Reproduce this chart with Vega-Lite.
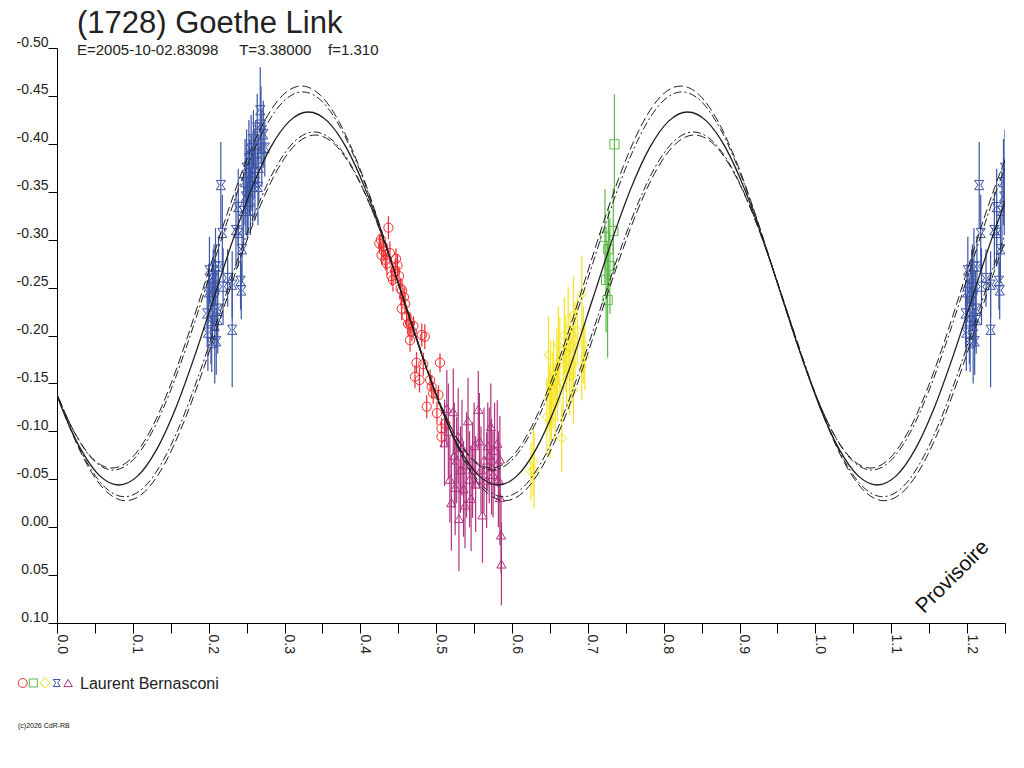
{
  "$schema": "https://vega.github.io/schema/vega-lite/v6.json",
  "width": 948,
  "height": 575,
  "autosize": {"type": "none"},
  "padding": {"left": 57, "top": 48, "right": 19, "bottom": 145},
  "background": "white",
  "title": {
    "text": "(1728) Goethe Link",
    "subtitle": "E=2005-10-02.83098\u00a0\u00a0\u00a0\u00a0\u00a0T=3.38000\u00a0\u00a0\u00a0\u00a0f=1.310",
    "anchor": "start",
    "frame": "group",
    "dx": 20,
    "offset": -24,
    "font": "Liberation Sans",
    "fontSize": 31,
    "fontWeight": "normal",
    "color": "#222222",
    "subtitleFont": "Liberation Sans",
    "subtitleFontSize": 15,
    "subtitleColor": "#222222",
    "subtitlePadding": 3
  },
  "config": {
    "view": {"stroke": null},
    "locale": {"number": {"decimal": ".", "thousands": ",", "grouping": [3], "currency": ["$", ""], "minus": "-"}},
    "axis": {
      "grid": false,
      "domainColor": "#000000",
      "tickColor": "#000000",
      "domainWidth": 1,
      "tickWidth": 1,
      "labelFont": "Liberation Sans",
      "labelFontSize": 14,
      "labelColor": "#222222"
    },
    "axisX": {
      "values": [0, 0.05, 0.1, 0.15, 0.2, 0.25, 0.3, 0.35, 0.4, 0.45, 0.5, 0.55, 0.6, 0.65, 0.7, 0.75, 0.8, 0.85, 0.9, 0.95, 1, 1.05, 1.1, 1.15, 1.2, 1.25],
      "format": ".1f",
      "labelExpr": "round(datum.value * 100) % 10 == 0 ? datum.label : ''",
      "labelAngle": 90,
      "labelAlign": "left",
      "labelBaseline": "alphabetic",
      "labelOverlap": false,
      "labelFlush": false,
      "tickSize": 10,
      "labelPadding": 1
    },
    "axisY": {
      "values": [-0.5, -0.45, -0.4, -0.35, -0.3, -0.25, -0.2, -0.15, -0.1, -0.05, 0, 0.05, 0.1],
      "format": ".2f",
      "labelAlign": "right",
      "labelBaseline": "alphabetic",
      "labelOverlap": false,
      "labelFlush": false,
      "labelOffset": -2,
      "tickSize": 9,
      "labelPadding": 0
    }
  },
  "datasets": {
    "curves": [
      {"c":"s","p":-0.0185,"m":-0.1785},{"c":"s","p":0.0065,"m":-0.1242},{"c":"s","p":0.0315,"m":-0.0812},{"c":"s","p":0.0565,"m":-0.0535},
      {"c":"s","p":0.0815,"m":-0.0440},{"c":"s","p":0.1065,"m":-0.0535},{"c":"s","p":0.1315,"m":-0.0812},{"c":"s","p":0.1565,"m":-0.1242},
      {"c":"s","p":0.1815,"m":-0.1785},{"c":"s","p":0.2065,"m":-0.2386},{"c":"s","p":0.2315,"m":-0.2987},{"c":"s","p":0.2565,"m":-0.3530},
      {"c":"s","p":0.2815,"m":-0.3960},{"c":"s","p":0.3065,"m":-0.4237},{"c":"s","p":0.3315,"m":-0.4332},{"c":"s","p":0.3565,"m":-0.4237},
      {"c":"s","p":0.3815,"m":-0.3960},{"c":"s","p":0.4065,"m":-0.3530},{"c":"s","p":0.4315,"m":-0.2987},{"c":"s","p":0.4565,"m":-0.2386},
      {"c":"s","p":0.4815,"m":-0.1785},{"c":"s","p":0.5065,"m":-0.1242},{"c":"s","p":0.5315,"m":-0.0812},{"c":"s","p":0.5565,"m":-0.0535},
      {"c":"s","p":0.5815,"m":-0.0440},{"c":"s","p":0.6065,"m":-0.0535},{"c":"s","p":0.6315,"m":-0.0812},{"c":"s","p":0.6565,"m":-0.1242},
      {"c":"s","p":0.6815,"m":-0.1785},{"c":"s","p":0.7065,"m":-0.2386},{"c":"s","p":0.7315,"m":-0.2987},{"c":"s","p":0.7565,"m":-0.3530},
      {"c":"s","p":0.7815,"m":-0.3960},{"c":"s","p":0.8065,"m":-0.4237},{"c":"s","p":0.8315,"m":-0.4332},{"c":"s","p":0.8565,"m":-0.4237},
      {"c":"s","p":0.8815,"m":-0.3960},{"c":"s","p":0.9065,"m":-0.3530},{"c":"s","p":0.9315,"m":-0.2987},{"c":"s","p":0.9565,"m":-0.2386},
      {"c":"s","p":0.9815,"m":-0.1785},{"c":"s","p":1.0065,"m":-0.1242},{"c":"s","p":1.0315,"m":-0.0812},{"c":"s","p":1.0565,"m":-0.0535},
      {"c":"s","p":1.0815,"m":-0.0440},{"c":"s","p":1.1065,"m":-0.0535},{"c":"s","p":1.1315,"m":-0.0812},{"c":"s","p":1.1565,"m":-0.1242},
      {"c":"s","p":1.1815,"m":-0.1785},{"c":"s","p":1.2065,"m":-0.2386},{"c":"s","p":1.2315,"m":-0.2987},{"c":"s","p":1.2565,"m":-0.3530},

      {"c":"uo","p":-0.0275,"m":-0.1994},{"c":"uo","p":-0.0025,"m":-0.1439},{"c":"uo","p":0.0225,"m":-0.0998},{"c":"uo","p":0.0475,"m":-0.0714},
      {"c":"uo","p":0.0725,"m":-0.0617},{"c":"uo","p":0.0975,"m":-0.0714},{"c":"uo","p":0.1225,"m":-0.0998},{"c":"uo","p":0.1475,"m":-0.1439},
      {"c":"uo","p":0.1725,"m":-0.1994},{"c":"uo","p":0.1975,"m":-0.2610},{"c":"uo","p":0.2225,"m":-0.3226},{"c":"uo","p":0.2475,"m":-0.3781},
      {"c":"uo","p":0.2725,"m":-0.4222},{"c":"uo","p":0.2975,"m":-0.4506},{"c":"uo","p":0.3225,"m":-0.4603},{"c":"uo","p":0.3475,"m":-0.4506},
      {"c":"uo","p":0.3725,"m":-0.4222},{"c":"uo","p":0.3975,"m":-0.3781},{"c":"uo","p":0.4225,"m":-0.3226},{"c":"uo","p":0.4475,"m":-0.2610},
      {"c":"uo","p":0.4725,"m":-0.1994},{"c":"uo","p":0.4975,"m":-0.1439},{"c":"uo","p":0.5225,"m":-0.0998},{"c":"uo","p":0.5475,"m":-0.0714},
      {"c":"uo","p":0.5725,"m":-0.0617},{"c":"uo","p":0.5975,"m":-0.0714},{"c":"uo","p":0.6225,"m":-0.0998},{"c":"uo","p":0.6475,"m":-0.1439},
      {"c":"uo","p":0.6725,"m":-0.1994},{"c":"uo","p":0.6975,"m":-0.2610},{"c":"uo","p":0.7225,"m":-0.3226},{"c":"uo","p":0.7475,"m":-0.3781},
      {"c":"uo","p":0.7725,"m":-0.4222},{"c":"uo","p":0.7975,"m":-0.4506},{"c":"uo","p":0.8225,"m":-0.4603},{"c":"uo","p":0.8475,"m":-0.4506},
      {"c":"uo","p":0.8725,"m":-0.4222},{"c":"uo","p":0.8975,"m":-0.3781},{"c":"uo","p":0.9225,"m":-0.3226},{"c":"uo","p":0.9475,"m":-0.2610},
      {"c":"uo","p":0.9725,"m":-0.1994},{"c":"uo","p":0.9975,"m":-0.1439},{"c":"uo","p":1.0225,"m":-0.0998},{"c":"uo","p":1.0475,"m":-0.0714},
      {"c":"uo","p":1.0725,"m":-0.0617},{"c":"uo","p":1.0975,"m":-0.0714},{"c":"uo","p":1.1225,"m":-0.0998},{"c":"uo","p":1.1475,"m":-0.1439},
      {"c":"uo","p":1.1725,"m":-0.1994},{"c":"uo","p":1.1975,"m":-0.2610},{"c":"uo","p":1.2225,"m":-0.3226},{"c":"uo","p":1.2475,"m":-0.3781},
      {"c":"uo","p":1.2725,"m":-0.4222},

      {"c":"ui","p":-0.026,"m":-0.1959},{"c":"ui","p":-0.001,"m":-0.1409},{"c":"ui","p":0.024,"m":-0.0973},{"c":"ui","p":0.049,"m":-0.0692},
      {"c":"ui","p":0.074,"m":-0.0596},{"c":"ui","p":0.099,"m":-0.0692},{"c":"ui","p":0.124,"m":-0.0973},{"c":"ui","p":0.149,"m":-0.1409},
      {"c":"ui","p":0.174,"m":-0.1959},{"c":"ui","p":0.199,"m":-0.2569},{"c":"ui","p":0.224,"m":-0.3179},{"c":"ui","p":0.249,"m":-0.3729},
      {"c":"ui","p":0.274,"m":-0.4165},{"c":"ui","p":0.299,"m":-0.4446},{"c":"ui","p":0.324,"m":-0.4542},{"c":"ui","p":0.349,"m":-0.4446},
      {"c":"ui","p":0.374,"m":-0.4165},{"c":"ui","p":0.399,"m":-0.3729},{"c":"ui","p":0.424,"m":-0.3179},{"c":"ui","p":0.449,"m":-0.2569},
      {"c":"ui","p":0.474,"m":-0.1959},{"c":"ui","p":0.499,"m":-0.1409},{"c":"ui","p":0.524,"m":-0.0973},{"c":"ui","p":0.549,"m":-0.0692},
      {"c":"ui","p":0.574,"m":-0.0596},{"c":"ui","p":0.599,"m":-0.0692},{"c":"ui","p":0.624,"m":-0.0973},{"c":"ui","p":0.649,"m":-0.1409},
      {"c":"ui","p":0.674,"m":-0.1959},{"c":"ui","p":0.699,"m":-0.2569},{"c":"ui","p":0.724,"m":-0.3179},{"c":"ui","p":0.749,"m":-0.3729},
      {"c":"ui","p":0.774,"m":-0.4165},{"c":"ui","p":0.799,"m":-0.4446},{"c":"ui","p":0.824,"m":-0.4542},{"c":"ui","p":0.849,"m":-0.4446},
      {"c":"ui","p":0.874,"m":-0.4165},{"c":"ui","p":0.899,"m":-0.3729},{"c":"ui","p":0.924,"m":-0.3179},{"c":"ui","p":0.949,"m":-0.2569},
      {"c":"ui","p":0.974,"m":-0.1959},{"c":"ui","p":0.999,"m":-0.1409},{"c":"ui","p":1.024,"m":-0.0973},{"c":"ui","p":1.049,"m":-0.0692},
      {"c":"ui","p":1.074,"m":-0.0596},{"c":"ui","p":1.099,"m":-0.0692},{"c":"ui","p":1.124,"m":-0.0973},{"c":"ui","p":1.149,"m":-0.1409},
      {"c":"ui","p":1.174,"m":-0.1959},{"c":"ui","p":1.199,"m":-0.2569},{"c":"ui","p":1.224,"m":-0.3179},{"c":"ui","p":1.249,"m":-0.3729},
      {"c":"ui","p":1.274,"m":-0.4165},

      {"c":"li","p":-0.011,"m":-0.1633},{"c":"li","p":0.014,"m":-0.1102},{"c":"li","p":0.039,"m":-0.0682},{"c":"li","p":0.064,"m":-0.0411},
      {"c":"li","p":0.089,"m":-0.0318},{"c":"li","p":0.114,"m":-0.0411},{"c":"li","p":0.139,"m":-0.0682},{"c":"li","p":0.164,"m":-0.1102},
      {"c":"li","p":0.189,"m":-0.1633},{"c":"li","p":0.214,"m":-0.2221},{"c":"li","p":0.239,"m":-0.2809},{"c":"li","p":0.264,"m":-0.3340},
      {"c":"li","p":0.289,"m":-0.3761},{"c":"li","p":0.314,"m":-0.4031},{"c":"li","p":0.339,"m":-0.4124},{"c":"li","p":0.364,"m":-0.4031},
      {"c":"li","p":0.389,"m":-0.3761},{"c":"li","p":0.414,"m":-0.3340},{"c":"li","p":0.439,"m":-0.2809},{"c":"li","p":0.464,"m":-0.2221},
      {"c":"li","p":0.489,"m":-0.1633},{"c":"li","p":0.514,"m":-0.1102},{"c":"li","p":0.539,"m":-0.0682},{"c":"li","p":0.564,"m":-0.0411},
      {"c":"li","p":0.589,"m":-0.0318},{"c":"li","p":0.614,"m":-0.0411},{"c":"li","p":0.639,"m":-0.0682},{"c":"li","p":0.664,"m":-0.1102},
      {"c":"li","p":0.689,"m":-0.1633},{"c":"li","p":0.714,"m":-0.2221},{"c":"li","p":0.739,"m":-0.2809},{"c":"li","p":0.764,"m":-0.3340},
      {"c":"li","p":0.789,"m":-0.3761},{"c":"li","p":0.814,"m":-0.4031},{"c":"li","p":0.839,"m":-0.4124},{"c":"li","p":0.864,"m":-0.4031},
      {"c":"li","p":0.889,"m":-0.3761},{"c":"li","p":0.914,"m":-0.3340},{"c":"li","p":0.939,"m":-0.2809},{"c":"li","p":0.964,"m":-0.2221},
      {"c":"li","p":0.989,"m":-0.1633},{"c":"li","p":1.014,"m":-0.1102},{"c":"li","p":1.039,"m":-0.0682},{"c":"li","p":1.064,"m":-0.0411},
      {"c":"li","p":1.089,"m":-0.0318},{"c":"li","p":1.114,"m":-0.0411},{"c":"li","p":1.139,"m":-0.0682},{"c":"li","p":1.164,"m":-0.1102},
      {"c":"li","p":1.189,"m":-0.1633},{"c":"li","p":1.214,"m":-0.2221},{"c":"li","p":1.239,"m":-0.2809},{"c":"li","p":1.264,"m":-0.3340},

      {"c":"lo","p":-0.0095,"m":-0.1594},{"c":"lo","p":0.0155,"m":-0.1063},{"c":"lo","p":0.0405,"m":-0.0640},{"c":"lo","p":0.0655,"m":-0.0369},
      {"c":"lo","p":0.0905,"m":-0.0276},{"c":"lo","p":0.1155,"m":-0.0369},{"c":"lo","p":0.1405,"m":-0.0640},{"c":"lo","p":0.1655,"m":-0.1063},
      {"c":"lo","p":0.1905,"m":-0.1594},{"c":"lo","p":0.2155,"m":-0.2184},{"c":"lo","p":0.2405,"m":-0.2774},{"c":"lo","p":0.2655,"m":-0.3306},
      {"c":"lo","p":0.2905,"m":-0.3728},{"c":"lo","p":0.3155,"m":-0.3999},{"c":"lo","p":0.3405,"m":-0.4092},{"c":"lo","p":0.3655,"m":-0.3999},
      {"c":"lo","p":0.3905,"m":-0.3728},{"c":"lo","p":0.4155,"m":-0.3306},{"c":"lo","p":0.4405,"m":-0.2774},{"c":"lo","p":0.4655,"m":-0.2184},
      {"c":"lo","p":0.4905,"m":-0.1594},{"c":"lo","p":0.5155,"m":-0.1063},{"c":"lo","p":0.5405,"m":-0.0640},{"c":"lo","p":0.5655,"m":-0.0369},
      {"c":"lo","p":0.5905,"m":-0.0276},{"c":"lo","p":0.6155,"m":-0.0369},{"c":"lo","p":0.6405,"m":-0.0640},{"c":"lo","p":0.6655,"m":-0.1063},
      {"c":"lo","p":0.6905,"m":-0.1594},{"c":"lo","p":0.7155,"m":-0.2184},{"c":"lo","p":0.7405,"m":-0.2774},{"c":"lo","p":0.7655,"m":-0.3306},
      {"c":"lo","p":0.7905,"m":-0.3728},{"c":"lo","p":0.8155,"m":-0.3999},{"c":"lo","p":0.8405,"m":-0.4092},{"c":"lo","p":0.8655,"m":-0.3999},
      {"c":"lo","p":0.8905,"m":-0.3728},{"c":"lo","p":0.9155,"m":-0.3306},{"c":"lo","p":0.9405,"m":-0.2774},{"c":"lo","p":0.9655,"m":-0.2184},
      {"c":"lo","p":0.9905,"m":-0.1594},{"c":"lo","p":1.0155,"m":-0.1063},{"c":"lo","p":1.0405,"m":-0.0640},{"c":"lo","p":1.0655,"m":-0.0369},
      {"c":"lo","p":1.0905,"m":-0.0276},{"c":"lo","p":1.1155,"m":-0.0369},{"c":"lo","p":1.1405,"m":-0.0640},{"c":"lo","p":1.1655,"m":-0.1063},
      {"c":"lo","p":1.1905,"m":-0.1594},{"c":"lo","p":1.2155,"m":-0.2184},{"c":"lo","p":1.2405,"m":-0.2774},{"c":"lo","p":1.2655,"m":-0.3306}
    ],
    "obs": [
      {"s":"r","p":0.425,"m":-0.296,"e":0.010},{"s":"r","p":0.427,"m":-0.300,"e":0.009},{"s":"r","p":0.428,"m":-0.284,"e":0.010},
      {"s":"r","p":0.430,"m":-0.293,"e":0.012},{"s":"r","p":0.431,"m":-0.288,"e":0.009},{"s":"r","p":0.433,"m":-0.279,"e":0.011},
      {"s":"r","p":0.435,"m":-0.275,"e":0.012},{"s":"r","p":0.437,"m":-0.3125,"e":0.012},{"s":"r","p":0.439,"m":-0.286,"e":0.012},
      {"s":"r","p":0.441,"m":-0.262,"e":0.010},{"s":"r","p":0.443,"m":-0.258,"e":0.012},{"s":"r","p":0.446,"m":-0.267,"e":0.013},
      {"s":"r","p":0.447,"m":-0.280,"e":0.011},{"s":"r","p":0.449,"m":-0.273,"e":0.012},{"s":"r","p":0.451,"m":-0.262,"e":0.010},
      {"s":"r","p":0.453,"m":-0.249,"e":0.011},{"s":"r","p":0.455,"m":-0.247,"e":0.012},{"s":"r","p":0.4575,"m":-0.240,"e":0.010},
      {"s":"r","p":0.4545,"m":-0.228,"e":0.012},{"s":"r","p":0.459,"m":-0.233,"e":0.011},{"s":"r","p":0.461,"m":-0.220,"e":0.012},
      {"s":"r","p":0.463,"m":-0.212,"e":0.013},{"s":"r","p":0.4655,"m":-0.213,"e":0.011},{"s":"r","p":0.470,"m":-0.210,"e":0.010},
      {"s":"r","p":0.4655,"m":-0.195,"e":0.012},{"s":"r","p":0.468,"m":-0.204,"e":0.010},{"s":"r","p":0.481,"m":-0.2005,"e":0.012},
      {"s":"r","p":0.485,"m":-0.1988,"e":0.013},{"s":"r","p":0.474,"m":-0.1716,"e":0.011},{"s":"r","p":0.483,"m":-0.170,"e":0.012},
      {"s":"r","p":0.505,"m":-0.1716,"e":0.010},{"s":"r","p":0.472,"m":-0.157,"e":0.012},{"s":"r","p":0.478,"m":-0.1535,"e":0.013},
      {"s":"r","p":0.492,"m":-0.1535,"e":0.011},{"s":"r","p":0.494,"m":-0.1466,"e":0.012},{"s":"r","p":0.496,"m":-0.1397,"e":0.011},
      {"s":"r","p":0.503,"m":-0.138,"e":0.010},{"s":"r","p":0.4875,"m":-0.1257,"e":0.012},{"s":"r","p":0.501,"m":-0.119,"e":0.012},
      {"s":"r","p":0.507,"m":-0.103,"e":0.011},{"s":"r","p":0.507,"m":-0.0944,"e":0.011},{"s":"r","p":0.512,"m":-0.108,"e":0.010},

      {"s":"m","p":0.511,"m":-0.088,"e":0.045},{"s":"m","p":0.514,"m":-0.124,"e":0.040},{"s":"m","p":0.516,"m":-0.100,"e":0.050},
      {"s":"m","p":0.518,"m":-0.050,"e":0.045},{"s":"m","p":0.520,"m":-0.0255,"e":0.050},{"s":"m","p":0.5225,"m":-0.1205,"e":0.045},
      {"s":"m","p":0.524,"m":-0.075,"e":0.055},{"s":"m","p":0.525,"m":-0.0416,"e":0.050},{"s":"m","p":0.527,"m":-0.070,"e":0.045},
      {"s":"m","p":0.529,"m":-0.095,"e":0.050},{"s":"m","p":0.530,"m":-0.009,"e":0.055},{"s":"m","p":0.532,"m":-0.060,"e":0.045},
      {"s":"m","p":0.534,"m":-0.083,"e":0.050},{"s":"m","p":0.536,"m":-0.040,"e":0.050},{"s":"m","p":0.538,"m":-0.023,"e":0.045},
      {"s":"m","p":0.540,"m":-0.065,"e":0.055},{"s":"m","p":0.542,"m":-0.111,"e":0.045},{"s":"m","p":0.544,"m":-0.050,"e":0.050},
      {"s":"m","p":0.546,"m":-0.030,"e":0.055},{"s":"m","p":0.548,"m":-0.0597,"e":0.050},{"s":"m","p":0.550,"m":-0.085,"e":0.045},
      {"s":"m","p":0.552,"m":-0.045,"e":0.050},{"s":"m","p":0.5555,"m":-0.123,"e":0.040},{"s":"m","p":0.557,"m":-0.090,"e":0.050},
      {"s":"m","p":0.559,"m":-0.060,"e":0.045},{"s":"m","p":0.561,"m":-0.0127,"e":0.050},{"s":"m","p":0.563,"m":-0.070,"e":0.055},
      {"s":"m","p":0.5665,"m":-0.049,"e":0.050},{"s":"m","p":0.568,"m":-0.085,"e":0.045},{"s":"m","p":0.570,"m":-0.075,"e":0.050},
      {"s":"m","p":0.572,"m":-0.105,"e":0.045},{"s":"m","p":0.573,"m":-0.063,"e":0.050},{"s":"m","p":0.575,"m":-0.055,"e":0.045},
      {"s":"m","p":0.577,"m":-0.080,"e":0.050},{"s":"m","p":0.5805,"m":-0.0875,"e":0.045},{"s":"m","p":0.582,"m":-0.050,"e":0.050},
      {"s":"m","p":0.584,"m":-0.071,"e":0.045},{"s":"m","p":0.584,"m":-0.031,"e":0.050},{"s":"m","p":0.5855,"m":0.0082,"e":0.040},
      {"s":"m","p":0.586,"m":0.0385,"e":0.043},

      {"s":"y","p":0.625,"m":-0.058,"e":0.030},{"s":"y","p":0.628,"m":-0.0683,"e":0.035},{"s":"y","p":0.629,"m":-0.0596,"e":0.040},
      {"s":"y","p":0.646,"m":-0.115,"e":0.040},{"s":"y","p":0.648,"m":-0.1796,"e":0.040},{"s":"y","p":0.649,"m":-0.135,"e":0.035},
      {"s":"y","p":0.650,"m":-0.1118,"e":0.040},{"s":"y","p":0.651,"m":-0.150,"e":0.045},{"s":"y","p":0.652,"m":-0.1257,"e":0.035},
      {"s":"y","p":0.654,"m":-0.143,"e":0.040},{"s":"y","p":0.655,"m":-0.160,"e":0.035},{"s":"y","p":0.657,"m":-0.130,"e":0.040},
      {"s":"y","p":0.659,"m":-0.1675,"e":0.040},{"s":"y","p":0.660,"m":-0.145,"e":0.035},{"s":"y","p":0.661,"m":-0.190,"e":0.040},
      {"s":"y","p":0.663,"m":-0.174,"e":0.045},{"s":"y","p":0.6655,"m":-0.0927,"e":0.035},{"s":"y","p":0.6675,"m":-0.150,"e":0.040},
      {"s":"y","p":0.669,"m":-0.200,"e":0.040},{"s":"y","p":0.671,"m":-0.1814,"e":0.040},{"s":"y","p":0.672,"m":-0.160,"e":0.035},
      {"s":"y","p":0.674,"m":-0.2057,"e":0.045},{"s":"y","p":0.676,"m":-0.157,"e":0.040},{"s":"y","p":0.6765,"m":-0.1883,"e":0.035},
      {"s":"y","p":0.679,"m":-0.170,"e":0.040},{"s":"y","p":0.681,"m":-0.2214,"e":0.040},{"s":"y","p":0.681,"m":-0.143,"e":0.035},
      {"s":"y","p":0.683,"m":-0.195,"e":0.040},{"s":"y","p":0.686,"m":-0.205,"e":0.035},{"s":"y","p":0.692,"m":-0.2433,"e":0.040},
      {"s":"y","p":0.692,"m":-0.1675,"e":0.035},{"s":"y","p":0.694,"m":-0.190,"e":0.040},{"s":"y","p":0.696,"m":-0.178,"e":0.035},

      {"s":"g","p":0.7225,"m":-0.303,"e":0.050},{"s":"g","p":0.724,"m":-0.258,"e":0.055},{"s":"g","p":0.726,"m":-0.237,"e":0.060},
      {"s":"g","p":0.727,"m":-0.290,"e":0.045},{"s":"g","p":0.729,"m":-0.2725,"e":0.050},{"s":"g","p":0.7335,"m":-0.309,"e":0.045},
      {"s":"g","p":0.735,"m":-0.3995,"e":0.052},

      {"s":"b","p":0.198,"m":-0.223,"e":0.035},{"s":"b","p":0.199,"m":-0.203,"e":0.040},{"s":"b","p":0.200,"m":-0.245,"e":0.030},
      {"s":"b","p":0.201,"m":-0.268,"e":0.035},{"s":"b","p":0.203,"m":-0.215,"e":0.045},{"s":"b","p":0.204,"m":-0.192,"e":0.030},
      {"s":"b","p":0.205,"m":-0.236,"e":0.040},{"s":"b","p":0.206,"m":-0.260,"e":0.030},{"s":"b","p":0.207,"m":-0.250,"e":0.045},
      {"s":"b","p":0.208,"m":-0.210,"e":0.060},{"s":"b","p":0.209,"m":-0.272,"e":0.040},{"s":"b","p":0.210,"m":-0.194,"e":0.035},
      {"s":"b","p":0.211,"m":-0.228,"e":0.040},{"s":"b","p":0.212,"m":-0.216,"e":0.035},{"s":"b","p":0.213,"m":-0.272,"e":0.030},
      {"s":"b","p":0.216,"m":-0.357,"e":0.045},{"s":"b","p":0.218,"m":-0.307,"e":0.040},{"s":"b","p":0.219,"m":-0.251,"e":0.040},
      {"s":"b","p":0.225,"m":-0.260,"e":0.030},{"s":"b","p":0.231,"m":-0.253,"e":0.035},{"s":"b","p":0.231,"m":-0.206,"e":0.060},
      {"s":"b","p":0.236,"m":-0.310,"e":0.040},{"s":"b","p":0.239,"m":-0.334,"e":0.040},{"s":"b","p":0.239,"m":-0.307,"e":0.035},
      {"s":"b","p":0.242,"m":-0.257,"e":0.030},{"s":"b","p":0.243,"m":-0.247,"e":0.030},{"s":"b","p":0.244,"m":-0.290,"e":0.035},
      {"s":"b","p":0.246,"m":-0.330,"e":0.040},{"s":"b","p":0.248,"m":-0.360,"e":0.045},{"s":"b","p":0.249,"m":-0.345,"e":0.040},
      {"s":"b","p":0.250,"m":-0.375,"e":0.040},{"s":"b","p":0.251,"m":-0.330,"e":0.030},{"s":"b","p":0.252,"m":-0.350,"e":0.045},
      {"s":"b","p":0.253,"m":-0.385,"e":0.040},{"s":"b","p":0.254,"m":-0.365,"e":0.040},{"s":"b","p":0.255,"m":-0.340,"e":0.035},
      {"s":"b","p":0.256,"m":-0.395,"e":0.035},{"s":"b","p":0.257,"m":-0.370,"e":0.040},{"s":"b","p":0.258,"m":-0.355,"e":0.040},
      {"s":"b","p":0.259,"m":-0.405,"e":0.030},{"s":"b","p":0.260,"m":-0.380,"e":0.035},{"s":"b","p":0.261,"m":-0.360,"e":0.040},
      {"s":"b","p":0.262,"m":-0.390,"e":0.035},{"s":"b","p":0.264,"m":-0.417,"e":0.035},{"s":"b","p":0.265,"m":-0.355,"e":0.040},
      {"s":"b","p":0.266,"m":-0.375,"e":0.035},{"s":"b","p":0.268,"m":-0.435,"e":0.045},{"s":"b","p":0.269,"m":-0.420,"e":0.040},
      {"s":"b","p":0.270,"m":-0.395,"e":0.040},{"s":"b","p":0.272,"m":-0.410,"e":0.035},{"s":"b","p":0.274,"m":-0.396,"e":0.030},

      {"s":"b","p":1.198,"m":-0.223,"e":0.035},{"s":"b","p":1.199,"m":-0.203,"e":0.040},{"s":"b","p":1.200,"m":-0.245,"e":0.030},
      {"s":"b","p":1.201,"m":-0.268,"e":0.035},{"s":"b","p":1.203,"m":-0.215,"e":0.045},{"s":"b","p":1.204,"m":-0.192,"e":0.030},
      {"s":"b","p":1.205,"m":-0.236,"e":0.040},{"s":"b","p":1.206,"m":-0.260,"e":0.030},{"s":"b","p":1.207,"m":-0.250,"e":0.045},
      {"s":"b","p":1.208,"m":-0.210,"e":0.060},{"s":"b","p":1.209,"m":-0.272,"e":0.040},{"s":"b","p":1.210,"m":-0.194,"e":0.035},
      {"s":"b","p":1.211,"m":-0.228,"e":0.040},{"s":"b","p":1.212,"m":-0.216,"e":0.035},{"s":"b","p":1.213,"m":-0.272,"e":0.030},
      {"s":"b","p":1.216,"m":-0.357,"e":0.045},{"s":"b","p":1.218,"m":-0.307,"e":0.040},{"s":"b","p":1.219,"m":-0.251,"e":0.040},
      {"s":"b","p":1.225,"m":-0.260,"e":0.030},{"s":"b","p":1.231,"m":-0.253,"e":0.035},{"s":"b","p":1.231,"m":-0.206,"e":0.060},
      {"s":"b","p":1.236,"m":-0.310,"e":0.040},{"s":"b","p":1.239,"m":-0.334,"e":0.040},{"s":"b","p":1.239,"m":-0.307,"e":0.035},
      {"s":"b","p":1.242,"m":-0.257,"e":0.030},{"s":"b","p":1.243,"m":-0.247,"e":0.030},{"s":"b","p":1.244,"m":-0.290,"e":0.035},
      {"s":"b","p":1.246,"m":-0.330,"e":0.040},{"s":"b","p":1.248,"m":-0.360,"e":0.045},{"s":"b","p":1.249,"m":-0.345,"e":0.040},
      {"s":"b","p":1.250,"m":-0.375,"e":0.040}
    ],
    "notes": [{"t": "Provisoire"}],
    "credit": [{"t": "(c)2026 CdR-RB"}],
    "observer": [{"t": "Laurent Bernasconi"}],
    "one": [{}]
  },
  "layer": [
    {
      "data": {"name": "obs"},
      "mark": {"type": "errorbar", "ticks": false, "clip": true, "thickness": 1.2},
      "encoding": {
        "x": {"field": "p", "type": "quantitative", "title": null, "scale": {"domain": [0, 1.25], "nice": false, "zero": false}},
        "y": {"field": "m", "type": "quantitative", "title": null, "scale": {"domain": [-0.5, 0.1], "reverse": true, "nice": false, "zero": false}},
        "yError": {"field": "e"},
        "color": {
          "field": "s",
          "type": "nominal",
          "scale": {"domain": ["r", "g", "y", "b", "m"], "range": ["#f02a2e", "#5cb947", "#f5e41c", "#3d56a6", "#b0337f"]},
          "legend": null
        }
      }
    },
    {
      "data": {"name": "obs"},
      "mark": {"type": "point", "filled": false, "size": 85, "strokeWidth": 1, "opacity": 1, "clip": true},
      "encoding": {
        "x": {"field": "p", "type": "quantitative", "title": null, "scale": {"domain": [0, 1.25], "nice": false, "zero": false}},
        "y": {"field": "m", "type": "quantitative", "title": null, "scale": {"domain": [-0.5, 0.1], "reverse": true, "nice": false, "zero": false}},
        "color": {
          "field": "s",
          "type": "nominal",
          "scale": {"domain": ["r", "g", "y", "b", "m"], "range": ["#f02a2e", "#5cb947", "#f5e41c", "#3d56a6", "#b0337f"]},
          "legend": null
        },
        "shape": {
          "field": "s",
          "type": "nominal",
          "scale": {"domain": ["r", "g", "y", "b", "m"], "range": ["circle", "square", "diamond", "M-1,-1L1,-1L0.3,0L1,1L-1,1L-0.3,0Z", "triangle-up"]},
          "legend": null
        }
      }
    },
    {
      "data": {"name": "curves"},
      "transform": [{"filter": "datum.c != 's'"}],
      "mark": {"type": "line", "interpolate": "monotone", "clip": true, "color": "#1e1e1e", "strokeWidth": 1},
      "encoding": {
        "x": {"field": "p", "type": "quantitative", "title": null, "scale": {"domain": [0, 1.25], "nice": false, "zero": false}},
        "y": {"field": "m", "type": "quantitative", "title": null, "scale": {"domain": [-0.5, 0.1], "reverse": true, "nice": false, "zero": false}},
        "detail": {"field": "c"},
        "strokeDash": {
          "field": "c",
          "type": "nominal",
          "scale": {"domain": ["uo", "ui", "li", "lo"], "range": [[9, 4], [8, 3, 2, 3], [8, 3, 2, 3], [9, 4]]},
          "legend": null
        }
      }
    },
    {
      "data": {"name": "curves"},
      "transform": [{"filter": "datum.c == 's'"}],
      "mark": {"type": "line", "interpolate": "monotone", "clip": true, "color": "#1e1e1e", "strokeWidth": 1.3},
      "encoding": {
        "x": {"field": "p", "type": "quantitative", "title": null, "scale": {"domain": [0, 1.25], "nice": false, "zero": false}},
        "y": {"field": "m", "type": "quantitative", "title": null, "scale": {"domain": [-0.5, 0.1], "reverse": true, "nice": false, "zero": false}}
      }
    },
    {
      "data": {"name": "notes"},
      "mark": {"type": "text", "angle": 315, "align": "center", "baseline": "middle", "font": "Liberation Sans", "fontSize": 21, "color": "#111111"},
      "encoding": {
        "x": {"datum": 1.181, "type": "quantitative", "scale": {"domain": [0, 1.25], "nice": false, "zero": false}},
        "y": {"datum": 0.052, "type": "quantitative", "scale": {"domain": [-0.5, 0.1], "reverse": true, "nice": false, "zero": false}},
        "text": {"field": "t", "type": "nominal"}
      }
    },
    {
      "data": {"name": "credit"},
      "mark": {"type": "text", "align": "left", "baseline": "alphabetic", "font": "Liberation Sans", "fontSize": 7, "color": "#111111", "clip": false},
      "encoding": {
        "x": {"datum": -0.0514, "type": "quantitative", "scale": {"domain": [0, 1.25], "nice": false, "zero": false}},
        "y": {"datum": 0.2096, "type": "quantitative", "scale": {"domain": [-0.5, 0.1], "reverse": true, "nice": false, "zero": false}},
        "text": {"field": "t", "type": "nominal"}
      }
    },
    {
      "data": {"name": "one"},
      "mark": {"type": "point", "shape": "circle", "filled": false, "size": 80, "strokeWidth": 1, "color": "#f02a2e", "opacity": 1},
      "encoding": {
        "x": {"datum": -0.0452, "type": "quantitative", "scale": {"domain": [0, 1.25], "nice": false, "zero": false}},
        "y": {"datum": 0.1626, "type": "quantitative", "scale": {"domain": [-0.5, 0.1], "reverse": true, "nice": false, "zero": false}}
      }
    },
    {
      "data": {"name": "one"},
      "mark": {"type": "point", "shape": "square", "filled": false, "size": 64, "strokeWidth": 1, "color": "#5cb947", "opacity": 1},
      "encoding": {
        "x": {"datum": -0.0312, "type": "quantitative", "scale": {"domain": [0, 1.25], "nice": false, "zero": false}},
        "y": {"datum": 0.1626, "type": "quantitative", "scale": {"domain": [-0.5, 0.1], "reverse": true, "nice": false, "zero": false}}
      }
    },
    {
      "data": {"name": "one"},
      "mark": {"type": "point", "shape": "diamond", "filled": false, "size": 100, "strokeWidth": 1, "color": "#f5e41c", "opacity": 1},
      "encoding": {
        "x": {"datum": -0.0158, "type": "quantitative", "scale": {"domain": [0, 1.25], "nice": false, "zero": false}},
        "y": {"datum": 0.1626, "type": "quantitative", "scale": {"domain": [-0.5, 0.1], "reverse": true, "nice": false, "zero": false}}
      }
    },
    {
      "data": {"name": "one"},
      "mark": {"type": "point", "shape": "M-1,-1L1,-1L0.3,0L1,1L-1,1L-0.3,0Z", "filled": false, "size": 49, "strokeWidth": 1, "color": "#3d56a6", "opacity": 1},
      "encoding": {
        "x": {"datum": -0.0004, "type": "quantitative", "scale": {"domain": [0, 1.25], "nice": false, "zero": false}},
        "y": {"datum": 0.1626, "type": "quantitative", "scale": {"domain": [-0.5, 0.1], "reverse": true, "nice": false, "zero": false}}
      }
    },
    {
      "data": {"name": "one"},
      "mark": {"type": "point", "shape": "triangle-up", "filled": false, "size": 70, "strokeWidth": 1, "color": "#b0337f", "opacity": 1},
      "encoding": {
        "x": {"datum": 0.0147, "type": "quantitative", "scale": {"domain": [0, 1.25], "nice": false, "zero": false}},
        "y": {"datum": 0.1626, "type": "quantitative", "scale": {"domain": [-0.5, 0.1], "reverse": true, "nice": false, "zero": false}}
      }
    },
    {
      "data": {"name": "observer"},
      "mark": {"type": "text", "align": "left", "baseline": "alphabetic", "font": "Liberation Sans", "fontSize": 16, "color": "#222222", "clip": false},
      "encoding": {
        "x": {"datum": 0.0303, "type": "quantitative", "scale": {"domain": [0, 1.25], "nice": false, "zero": false}},
        "y": {"datum": 0.1684, "type": "quantitative", "scale": {"domain": [-0.5, 0.1], "reverse": true, "nice": false, "zero": false}},
        "text": {"field": "t", "type": "nominal"}
      }
    }
  ],
  "resolve": {"scale": {"color": "independent", "strokeDash": "independent"}}
}
